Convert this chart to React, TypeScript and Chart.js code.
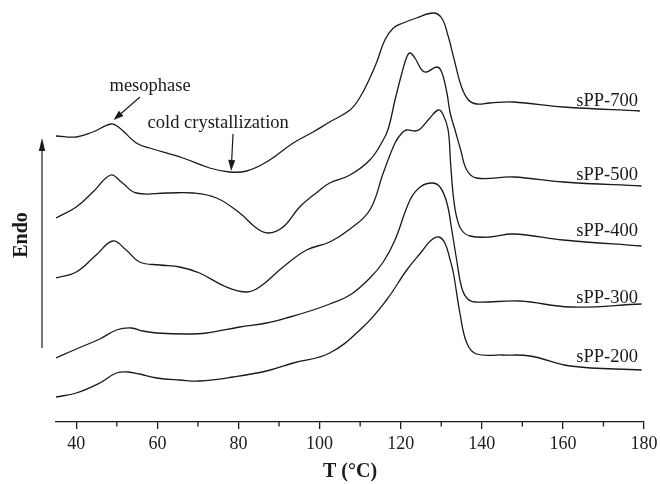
import React, { useEffect, useRef } from 'react';
import { Chart, registerables } from 'chart.js';

Chart.register(...registerables);

// ---- Data: DSC heating curves, temperature (°C) vs heat flow (arbitrary units, endo up) ----
const T_700 = [35, 40, 44.1, 48.6, 50.7, 54.8, 58.1, 66.3, 72.9, 77.8, 82.0, 86.9, 93.5, 98.4, 102.5, 107.5, 110.0, 112.4, 114.1, 116.1, 118.2, 120.6, 123.9, 128.0, 130.1, 131.7, 133.4, 135.0, 136.7, 138.7, 142.0, 147.8, 160.1, 179];
const H_700 = [286, 285, 290, 298, 294, 279, 274, 264, 254, 250, 251, 260, 279, 290, 300, 312, 325, 344, 360, 382, 394, 399, 404, 409, 404, 386, 359, 335, 322, 318, 319, 320, 315, 311];

const T_500 = [35, 40, 44.1, 48.5, 51.1, 54.8, 62.2, 68.8, 74.6, 80.3, 84.4, 87.3, 91.0, 95.1, 100.1, 102.5, 107.5, 112.4, 115.7, 117.0, 118.6, 120.3, 121.5, 122.3, 123.5, 125.2, 126.4, 128.9, 130.1, 131.4, 132.2, 133.4, 134.8, 136.3, 138.7, 147.8, 160.1, 179.4];
const H_500 = [204, 215, 230, 247, 240, 229, 229, 229, 224, 209, 194, 189, 195, 215, 232, 239, 247, 262, 282, 294, 322, 349, 365, 369, 364, 352, 350, 355, 350, 329, 309, 292, 272, 252, 244, 245, 240, 236];

const T_400 = [35, 40, 44.9, 49.0, 52.3, 55.6, 60.6, 65.5, 70.4, 77.0, 82.0, 85.2, 91.0, 96.8, 102.5, 107.5, 112.4, 115.7, 118.6, 120.3, 121.5, 123.5, 124.8, 127.2, 129.3, 130.5, 131.7, 132.3, 133.0, 133.8, 135.0, 137.1, 142.0, 147.8, 160.1, 179.4];
const H_400 = [144, 150, 167, 181, 172, 160, 157, 155, 149, 135, 130, 135, 155, 172, 180, 193, 212, 249, 279, 289, 292, 291, 293, 304, 312, 307, 292, 259, 225, 205, 192, 186, 185, 188, 182, 176];

const T_300 = [35, 40, 45.8, 49.9, 53.6, 56.4, 59.8, 67.2, 72.1, 80.3, 86.9, 92.7, 98.4, 102.5, 107.5, 112.4, 115.7, 118.6, 122.3, 124.8, 127.7, 129.7, 131.4, 132.6, 133.8, 135.0, 136.3, 138.3, 149.4, 161.8, 179.4];
const H_300 = [64, 73, 83, 92, 94, 91, 89, 88, 89, 95, 99, 105, 112, 118, 127, 144, 160, 182, 222, 235, 239, 235, 219, 192, 162, 135, 124, 120, 121, 115, 118];

const T_200 = [35, 40, 45.8, 49.9, 52.7, 55.6, 59.8, 65.5, 70.4, 78.7, 86.9, 93.5, 102.5, 110.7, 116.5, 121.5, 125.3, 127.3, 129.3, 130.9, 132.2, 133.0, 134.6, 136.3, 138.7, 145.0, 151.9, 161.8, 179.4];
const H_200 = [25, 29, 39, 49, 50, 48, 44, 42, 41, 45, 51, 59, 69, 95, 122, 152, 171, 181, 185, 179, 162, 149, 109, 79, 68, 67, 66, 56, 52];

const SERIES_NAMES = ['sPP-700', 'sPP-500', 'sPP-400', 'sPP-300', 'sPP-200'];
const MAJOR_TICKS = [40, 60, 80, 100, 120, 140, 160, 180];
const MINOR_TICKS = [50, 70, 90, 110, 130, 150, 170];
const X_TITLE = 'T (°C)';
const Y_TITLE = 'Endo';
const NOTE_MESO = 'mesophase';
const NOTE_COLD = 'cold crystallization';

// ---- Annotation placement (data coordinates) ----
const NAME_POS = [
  { t: 178.5, v: 316 },
  { t: 178.5, v: 242 },
  { t: 178.5, v: 186 },
  { t: 178.5, v: 119 },
  { t: 178.5, v: 60 },
];
const MESO_TEXT = { t: 58.2, v: 331 };
const MESO_ARROW = { t1: 55.7, v1: 325, t2: 49.2, v2: 302 };
const COLD_TEXT = { t: 75.0, v: 294 };
const COLD_ARROW = { t1: 78.65, v1: 288, t2: 78.2, v2: 251 };
const ENDO_ARROW = { t: 31.55, v1: 74, v2: 284 };
const ENDO_TEXT = { t: 27.77, v: 187 };

const INK = '#1a1a1a';
const SERIF = "'Liberation Serif', 'Times New Roman', Times, serif";

function drawArrow(ctx: CanvasRenderingContext2D, x1: number, y1: number, x2: number, y2: number, len: number, half: number) {
  const a = Math.atan2(y2 - y1, x2 - x1);
  const bx = x2 - len * Math.cos(a);
  const by = y2 - len * Math.sin(a);
  ctx.beginPath();
  ctx.moveTo(x1, y1);
  ctx.lineTo(bx, by);
  ctx.stroke();
  ctx.beginPath();
  ctx.moveTo(x2, y2);
  ctx.lineTo(bx + half * Math.sin(a), by - half * Math.cos(a));
  ctx.lineTo(bx - half * Math.sin(a), by + half * Math.cos(a));
  ctx.closePath();
  ctx.fill();
}

const annotationPlugin = {
  id: 'dscAnnotations',
  afterDraw(chart: any) {
    const { ctx, scales } = chart;
    const xs = scales.x;
    const ys = scales.y;
    const px = (t: number) => xs.getPixelForValue(t);
    const py = (v: number) => ys.getPixelForValue(v);
    ctx.save();
    ctx.strokeStyle = INK;
    ctx.fillStyle = INK;
    ctx.lineWidth = 1.3;

    // minor ticks
    const base = xs.top;
    MINOR_TICKS.forEach((t) => {
      const X = px(t);
      ctx.beginPath();
      ctx.moveTo(X, base);
      ctx.lineTo(X, base + 4.5);
      ctx.stroke();
    });

    // series names
    ctx.font = `18.5px ${SERIF}`;
    ctx.textBaseline = 'alphabetic';
    ctx.textAlign = 'right';
    SERIES_NAMES.forEach((name, i) => {
      ctx.fillText(name, px(NAME_POS[i].t), py(NAME_POS[i].v));
    });

    // notes
    ctx.textAlign = 'center';
    ctx.fillText(NOTE_MESO, px(MESO_TEXT.t), py(MESO_TEXT.v));
    ctx.fillText(NOTE_COLD, px(COLD_TEXT.t), py(COLD_TEXT.v));
    ctx.lineWidth = 1.2;
    drawArrow(ctx, px(MESO_ARROW.t1), py(MESO_ARROW.v1), px(MESO_ARROW.t2), py(MESO_ARROW.v2), 10, 3.5);
    drawArrow(ctx, px(COLD_ARROW.t1), py(COLD_ARROW.v1), px(COLD_ARROW.t2), py(COLD_ARROW.v2), 11, 3.5);

    // Endo arrow & label
    drawArrow(ctx, px(ENDO_ARROW.t), py(ENDO_ARROW.v1), px(ENDO_ARROW.t), py(ENDO_ARROW.v2), 13, 3.2);
    ctx.translate(px(ENDO_TEXT.t), py(ENDO_TEXT.v));
    ctx.rotate(-Math.PI / 2);
    ctx.font = `bold 20px ${SERIF}`;
    ctx.textAlign = 'center';
    ctx.textBaseline = 'alphabetic';
    ctx.fillText(Y_TITLE, 0, 0);
    ctx.restore();
  },
};

const SERIES_T = [T_700, T_500, T_400, T_300, T_200];
const SERIES_H = [H_700, H_500, H_400, H_300, H_200];

export default function App() {
  const ref = useRef<HTMLCanvasElement | null>(null);

  useEffect(() => {
    if (!ref.current) return;
    const datasets = SERIES_NAMES.map((name, i) => ({
      label: name,
      data: SERIES_T[i].map((t, j) => ({ x: t, y: SERIES_H[i][j] })),
      borderColor: INK,
      borderWidth: 1.3,
      pointRadius: 0,
      fill: false,
      tension: 0.4,
    }));
    const chart = new Chart(ref.current, {
      type: 'line',
      data: { datasets },
      options: {
        responsive: false,
        animation: false,
        layout: { padding: { left: 56, right: 16, top: 10, bottom: 0 } },
        plugins: { legend: { display: false }, tooltip: { enabled: false } },
        scales: {
          x: {
            type: 'linear',
            min: 35,
            max: 180,
            afterBuildTicks: (s: any) => {
              s.ticks = MAJOR_TICKS.map((v) => ({ value: v }));
            },
            afterFit: (s: any) => {
              s.paddingLeft = 0;
              s.paddingRight = 0;
            },
            grid: { display: true, drawOnChartArea: false, drawTicks: true, tickLength: 7, color: INK, lineWidth: 1.3 },
            border: { display: true, color: INK, width: 1.3 },
            ticks: { color: INK, font: { family: SERIF, size: 18 }, padding: 4.5, maxRotation: 0, autoSkip: false },
            title: {
              display: true,
              text: X_TITLE,
              color: INK,
              font: { family: SERIF, size: 20, weight: 'bold' },
              padding: { top: 0.4, bottom: 0 },
            },
          },
          y: { display: false, min: 0, max: 412 },
        },
      },
      plugins: [annotationPlugin],
    } as any);
    return () => chart.destroy();
  }, []);

  return (
    <div style={{ position: 'fixed', left: 0, top: 0, width: 660, height: 484, background: '#fff' }}>
      <canvas ref={ref} width={660} height={484} style={{ display: 'block', width: 660, height: 484 }} />
    </div>
  );
}
